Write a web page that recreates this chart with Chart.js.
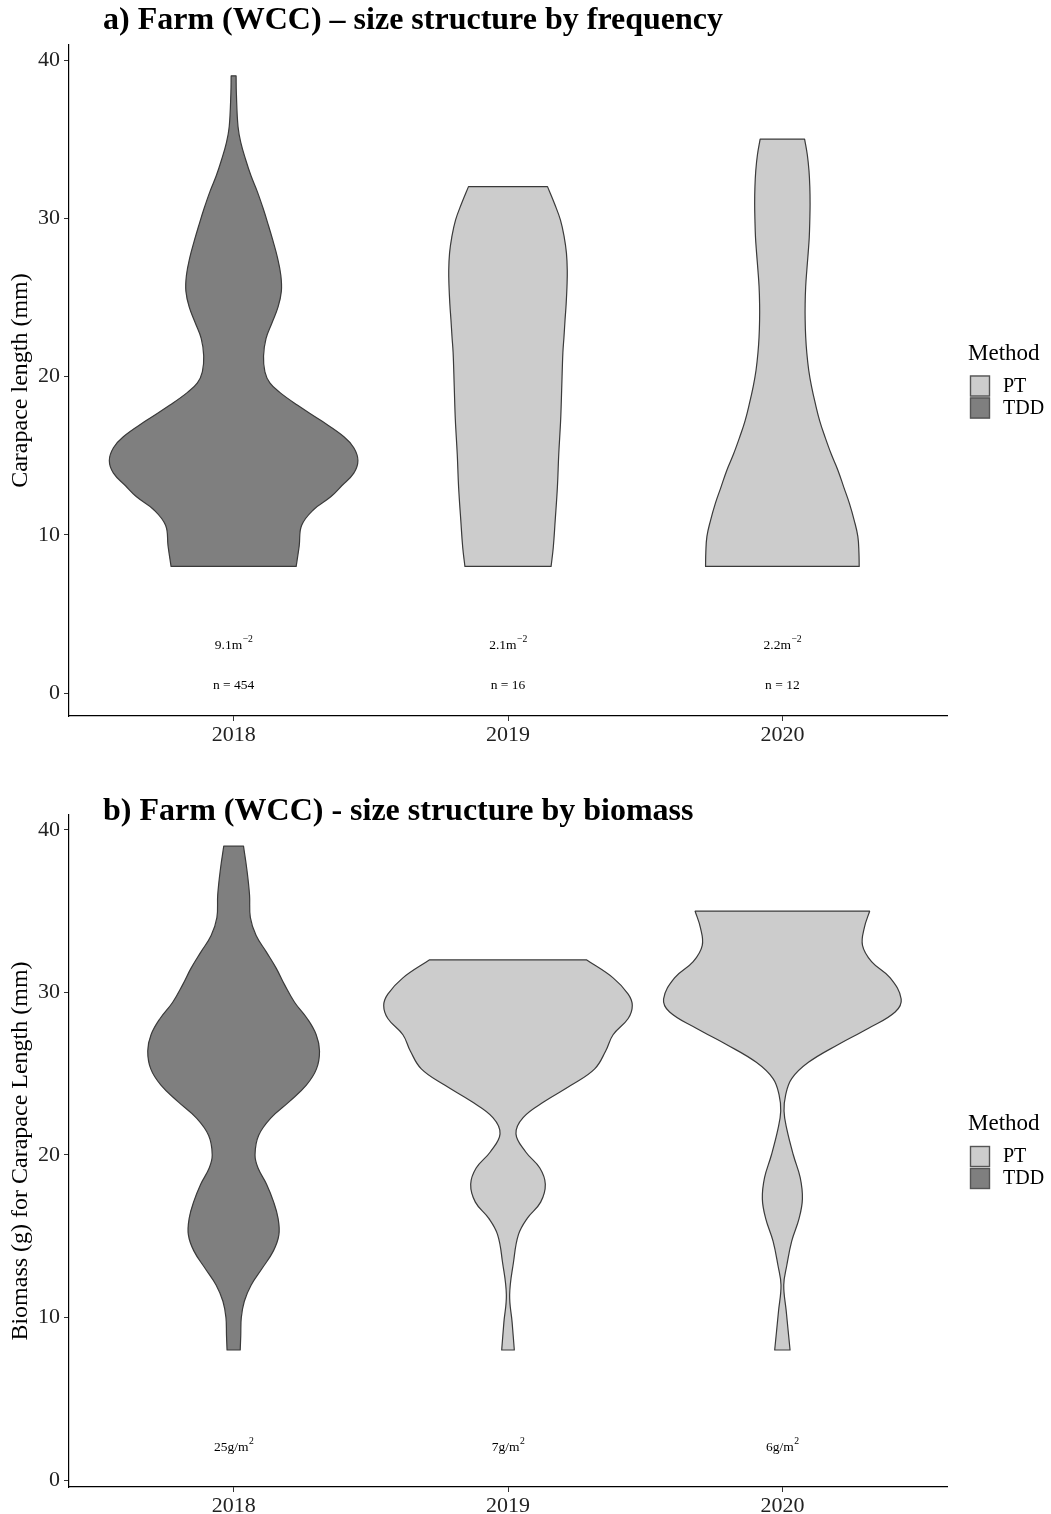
<!DOCTYPE html>
<html><head><meta charset="utf-8">
<script src="https://cdn.jsdelivr.net/npm/chart.js@4.4.0/dist/chart.umd.min.js"></script>
<style>
html,body{margin:0;padding:0;background:#fff;overflow:hidden;}
#wrap{position:relative;width:1051px;height:1514px;background:#fff;}
.panel{position:absolute;left:0;width:1051px;height:757px;}
#pa{top:0}#pb{top:757px}
</style></head><body>
<div id="wrap">
<div class="panel" id="pa"><canvas id="ca" width="1051" height="757"></canvas></div>
<div class="panel" id="pb"><canvas id="cb" width="1051" height="757"></canvas></div>
</div>
<script>
// ---------------- DATA ----------------
const years = ['2018', '2019', '2020'];
const methods = ['TDD', 'PT', 'PT'];
const legendLabels = ['PT', 'TDD'];
const yTicks = [0, 10, 20, 30, 40];
const xTickValues = [1, 2, 3];

// Panel a: violin outline, carapace length levels (mm) and half-widths (fraction of category spacing)
const freq2018Y = [8, 9.3, 10.6, 11.6, 12.4, 13.1, 13.9, 14.7, 15.5, 16.2, 17.2, 18.2, 19.0, 19.6, 20.3, 21.3, 22.4, 23.4, 24.4, 25.4, 26.4, 27.5, 28.6, 29.6, 30.6, 31.7, 32.7, 33.7, 34.8, 35.8, 37.9, 39];
const freq2018W = [0.228, 0.239, 0.248, 0.292, 0.354, 0.394, 0.438, 0.453, 0.438, 0.402, 0.320, 0.232, 0.168, 0.132, 0.114, 0.109, 0.118, 0.140, 0.162, 0.174, 0.172, 0.160, 0.143, 0.126, 0.108, 0.086, 0.063, 0.044, 0.026, 0.016, 0.010, 0.009];
const freq2019Y = [8, 9.2, 10.9, 13.0, 15.1, 17.3, 19.4, 21.5, 22.5, 23.6, 24.6, 25.7, 26.7, 27.8, 28.8, 29.9, 30.9, 32];
const freq2019W = [0.157, 0.165, 0.172, 0.180, 0.185, 0.192, 0.196, 0.200, 0.204, 0.208, 0.212, 0.215, 0.216, 0.213, 0.205, 0.191, 0.170, 0.144];
const freq2020Y = [8, 8.9, 9.9, 10.9, 12.0, 13.0, 14.1, 15.1, 16.2, 17.2, 18.3, 19.4, 20.4, 21.5, 22.5, 23.6, 24.6, 25.7, 26.7, 27.8, 28.8, 29.9, 30.9, 32.0, 33.0, 34.0, 35];
const freq2020W = [0.280, 0.279, 0.275, 0.262, 0.244, 0.224, 0.202, 0.178, 0.155, 0.136, 0.120, 0.106, 0.096, 0.089, 0.085, 0.083, 0.083, 0.085, 0.089, 0.094, 0.098, 0.100, 0.101, 0.100, 0.097, 0.091, 0.081];

// Panel b: biomass-weighted violins
const bio2018Y = [8, 8.9, 10.0, 11.0, 12.0, 13.0, 14.1, 15.1, 16.1, 17.1, 18.2, 19.2, 20.0, 21.2, 22.3, 23.3, 24.3, 25.3, 26.4, 27.4, 28.4, 29.4, 30.5, 31.5, 32.5, 33.5, 34.6, 36.0, 37.6, 39];
const bio2018W = [0.024, 0.026, 0.028, 0.039, 0.064, 0.103, 0.145, 0.165, 0.162, 0.146, 0.120, 0.089, 0.078, 0.091, 0.137, 0.204, 0.265, 0.302, 0.313, 0.301, 0.268, 0.222, 0.185, 0.155, 0.119, 0.082, 0.061, 0.058, 0.048, 0.036];
const bio2019Y = [8, 9.7, 11.4, 13.4, 15.1, 16.1, 17.1, 18.2, 19.2, 20.2, 21.3, 22.3, 23.3, 24.3, 25.3, 26.4, 27.4, 28.4, 29.2, 29.9, 30.9, 32];
const bio2019W = [0.023, 0.015, 0.006, 0.020, 0.038, 0.070, 0.119, 0.136, 0.116, 0.064, 0.029, 0.055, 0.134, 0.231, 0.316, 0.356, 0.383, 0.438, 0.453, 0.438, 0.383, 0.287];
const bio2020Y = [8, 10.4, 12.0, 13.2, 14.7, 16.1, 17.3, 18.6, 20.0, 21.6, 22.7, 23.7, 24.7, 25.7, 26.8, 27.8, 28.8, 29.6, 30.9, 31.9, 32.9, 34.0, 35];
const bio2020W = [0.028, 0.014, 0.005, 0.016, 0.034, 0.061, 0.073, 0.065, 0.040, 0.016, 0.006, 0.012, 0.034, 0.095, 0.204, 0.314, 0.411, 0.433, 0.393, 0.325, 0.292, 0.299, 0.318];

// Annotations
const densityBase = ['9.1m', '2.1m', '2.2m'];
const densitySup = ['\u22122', '\u22122', '\u22122'];
const countLabels = ['n = 454', 'n = 16', 'n = 12'];
const biomassBase = ['25g/m', '7g/m', '6g/m'];
const biomassSup = ['2', '2', '2'];
const densityLabelY = 3;
const countLabelY = 0.45;
const biomassLabelY = 2;

// ---------------- STYLE ----------------
const FONT = '"Liberation Serif", "Times New Roman", serif';
const fillByMethod = { PT: '#cccccc', TDD: '#7f7f7f' };
const OUTLINE = '#3a3a3a';

function violinDatasets(ysList, wsList) {
  const out = [];
  ysList.forEach((ys, k) => {
    const center = xTickValues[k];
    const ws = wsList[k];
    const base = { pointRadius: 0, pointHoverRadius: 0, borderWidth: 0, fill: false,
      tension: 0.4, violinFill: fillByMethod[methods[k]], label: years[k] };
    out.push(Object.assign({}, base, { data: ys.map((v, j) => ({ x: center - ws[j], y: v })) }));
    out.push(Object.assign({}, base, { data: ys.map((v, j) => ({ x: center + ws[j], y: v })) }));
  });
  return out;
}

const violinPlugin = {
  id: 'violinShapes',
  beforeDatasetsDraw(chart) {
    const ctx = chart.ctx;
    const ds = chart.data.datasets;
    for (let i = 0; i + 1 < ds.length; i += 2) {
      const L = chart.getDatasetMeta(i).dataset;
      const R = chart.getDatasetMeta(i + 1).dataset;
      L.updateControlPoints(chart.chartArea, 'y');
      R.updateControlPoints(chart.chartArea, 'y');
      ctx.save();
      ctx.beginPath();
      L.pathSegment(ctx, L.segments[0]);
      R.pathSegment(ctx, R.segments[0], { move: false, reverse: true });
      ctx.closePath();
      ctx.fillStyle = ds[i].violinFill;
      ctx.fill();
      ctx.lineWidth = 1.2;
      ctx.lineJoin = 'round';
      ctx.strokeStyle = OUTLINE;
      ctx.stroke();
      ctx.restore();
    }
  }
};

function drawSup(ctx, cx, cy, base, sup, size) {
  ctx.font = size + 'px ' + FONT;
  const wb = ctx.measureText(base).width;
  const ss = size * 0.72;
  ctx.font = ss + 'px ' + FONT;
  const ws = ctx.measureText(sup).width;
  const x0 = cx - (wb + ws) / 2;
  ctx.textAlign = 'left';
  ctx.textBaseline = 'middle';
  ctx.font = size + 'px ' + FONT;
  ctx.fillText(base, x0, cy);
  ctx.font = ss + 'px ' + FONT;
  ctx.fillText(sup, x0 + wb + 0.5, cy - size * 0.42);
}

const textPlugin = {
  id: 'panelText',
  afterDraw(chart, args, opts) {
    const ctx = chart.ctx;
    const xs = chart.scales.x, ys = chart.scales.y;
    const area = chart.chartArea;
    ctx.save();
    ctx.fillStyle = '#000';
    ctx.font = 'bold 32px ' + FONT;
    ctx.textAlign = 'left';
    ctx.textBaseline = 'alphabetic';
    ctx.fillText(opts.title, 103, opts.titleBaseline);
    const size = 13.5;
    xTickValues.forEach((v, k) => {
      const cx = xs.getPixelForValue(v);
      if (opts.kind === 'freq') {
        drawSup(ctx, cx, ys.getPixelForValue(densityLabelY), densityBase[k], densitySup[k], size);
        ctx.font = size + 'px ' + FONT;
        ctx.textAlign = 'center';
        ctx.textBaseline = 'middle';
        ctx.fillText(countLabels[k], cx, ys.getPixelForValue(countLabelY));
      } else {
        drawSup(ctx, cx, ys.getPixelForValue(biomassLabelY), biomassBase[k], biomassSup[k], size);
      }
    });
    const mid = (area.top + area.bottom) / 2;
    ctx.font = '23px ' + FONT;
    ctx.textAlign = 'left';
    ctx.textBaseline = 'middle';
    ctx.fillText('Method', 968, mid - 27);
    legendLabels.forEach((lab, k) => {
      const top = mid - 5 + k * 22;
      ctx.fillStyle = fillByMethod[lab];
      ctx.fillRect(970, top, 20, 21);
      ctx.strokeStyle = '#555';
      ctx.lineWidth = 1.4;
      ctx.strokeRect(970.5, top + 0.5, 19, 20);
      ctx.fillStyle = '#000';
      ctx.font = '20px ' + FONT;
      ctx.fillText(lab, 1003, top + 11);
    });
    ctx.restore();
  }
};

function makeChart(canvasId, ysList, wsList, cfg) {
  return new Chart(document.getElementById(canvasId), {
    type: 'line',
    data: { datasets: violinDatasets(ysList, wsList) },
    options: {
      responsive: false,
      animation: false,
      events: [],
      indexAxis: 'y',
      layout: { padding: { top: cfg.padTop, right: 104, left: 0, bottom: 0 } },
      scales: {
        x: {
          type: 'linear', min: 0.4, max: 3.6, bounds: 'data', position: 'bottom',
          afterBuildTicks: s => { s.ticks = xTickValues.map(v => ({ value: v })); },
          afterFit: s => { s.height = cfg.xHeight; },
          ticks: { callback: (v, i) => years[i], font: { family: FONT, size: 22 }, color: '#222', padding: 1, maxRotation: 0, autoSkip: false },
          grid: { display: true, drawOnChartArea: false, drawTicks: true, tickLength: 5, tickColor: '#333', lineWidth: 1 },
          border: { display: true, color: '#000', width: 1.2 }
        },
        y: {
          type: 'linear', min: cfg.yMin, max: cfg.yMax, bounds: 'data', position: 'left',
          afterBuildTicks: s => { s.ticks = yTicks.map(v => ({ value: v })); },
          afterFit: s => { s.width = 69; },
          ticks: { callback: v => String(v), font: { family: FONT, size: 22 }, color: '#222', padding: 4 },
          grid: { display: true, drawOnChartArea: false, drawTicks: true, tickLength: 5, tickColor: '#333', lineWidth: 1 },
          border: { display: true, color: '#000', width: 1.2 },
          title: { display: true, text: cfg.yTitle, font: { family: FONT, size: 24 }, color: '#000', padding: { top: 6, bottom: 0 } }
        }
      },
      plugins: {
        legend: { display: false },
        tooltip: { enabled: false },
        panelText: { title: cfg.title, titleBaseline: cfg.titleBaseline, kind: cfg.kind }
      }
    },
    plugins: [violinPlugin, textPlugin]
  });
}

makeChart('ca', [freq2018Y, freq2019Y, freq2020Y], [freq2018W, freq2019W, freq2020W], {
  padTop: 45, xHeight: 41, yMin: -1.45, yMax: 40.95,
  yTitle: 'Carapace length (mm)',
  title: 'a) Farm (WCC) \u2013 size structure by frequency', titleBaseline: 29, kind: 'freq'
});
makeChart('cb', [bio2018Y, bio2019Y, bio2020Y], [bio2018W, bio2019W, bio2020W], {
  padTop: 58, xHeight: 27, yMin: -0.43, yMax: 40.92,
  yTitle: 'Biomass (g) for Carapace Length (mm)',
  title: 'b) Farm (WCC) - size structure by biomass', titleBaseline: 63, kind: 'bio'
});
</script>
</body></html>
